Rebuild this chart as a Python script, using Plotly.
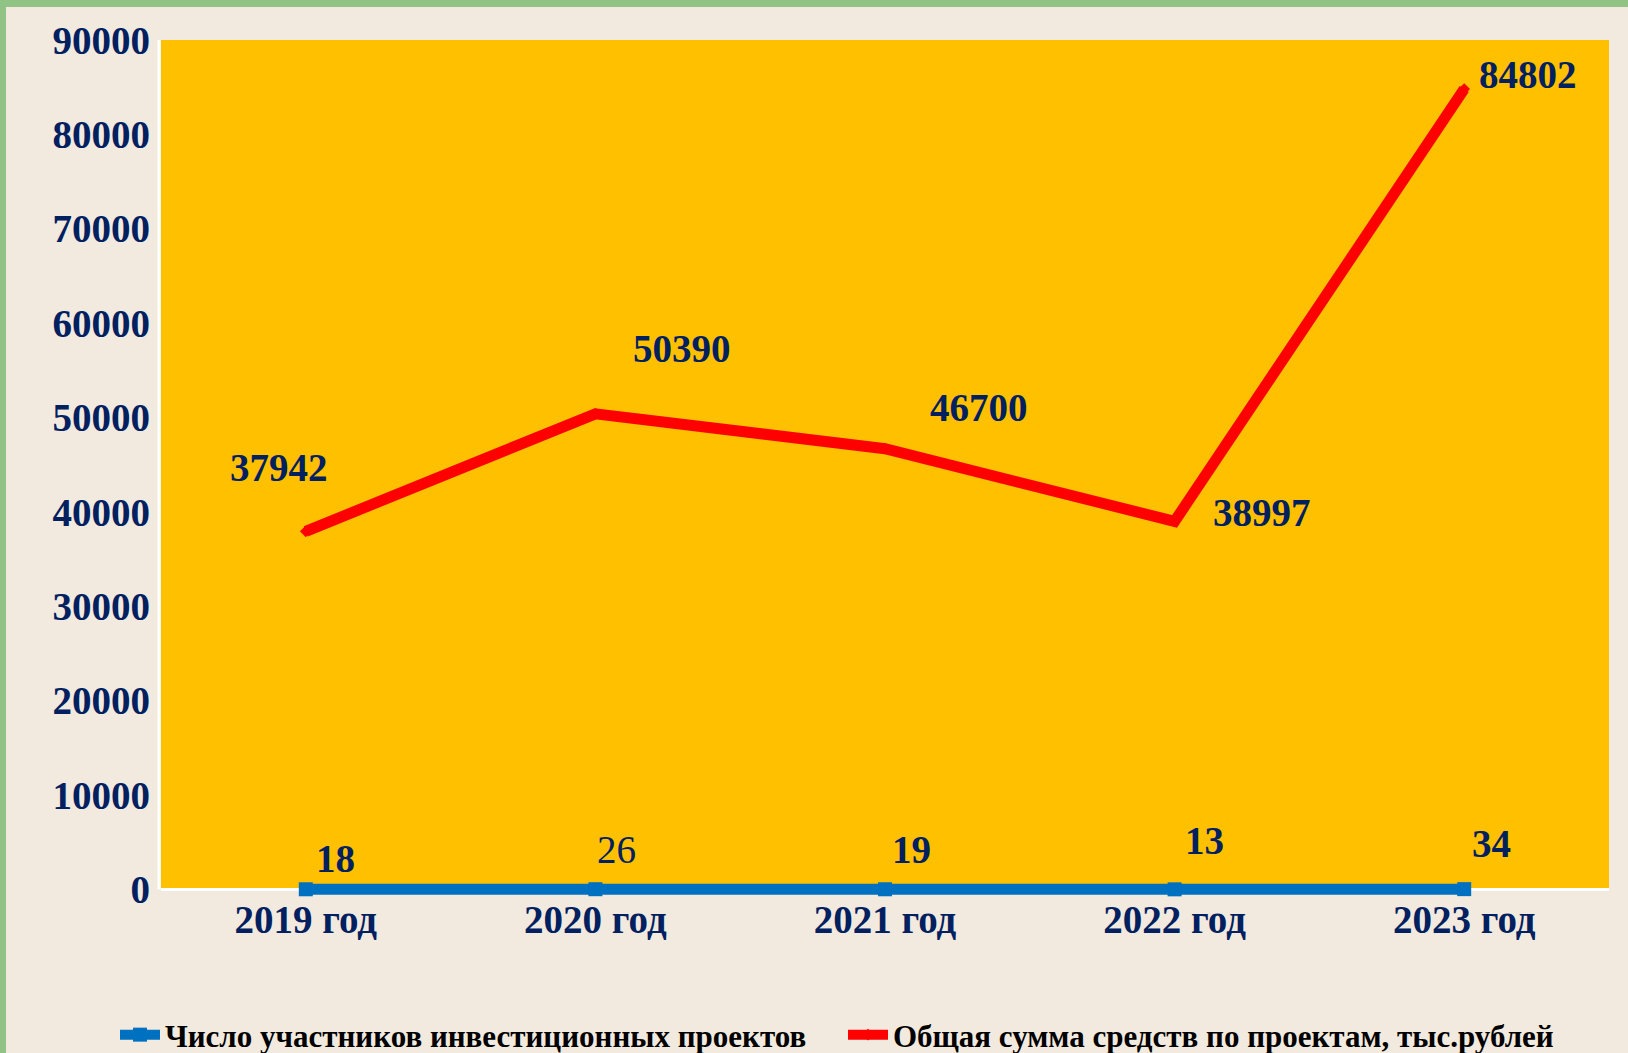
import plotly.graph_objects as go

# ---- data ----
years = ["2019 год", "2020 год", "2021 год", "2022 год", "2023 год"]
participants = [18, 26, 19, 13, 34]
funds = [37942, 50390, 46700, 38997, 84802]
y_ticks = [0, 10000, 20000, 30000, 40000, 50000, 60000, 70000, 80000, 90000]
name_participants = "Число участников инвестиционных проектов"
name_funds = "Общая сумма средств по проектам, тыс.рублей"

# ---- styles ----
NAVY = "#002060"
BLUE = "#0070C0"
RED = "#FF0000"
BG = "#F2EADF"
PLOT_BG = "#FFC000"
GREEN = "#91C385"
FONT = "Liberation Serif"
FS = 39

# label offsets in pixels (dx right, dy up)
funds_label_shift = [(-27, 64), (87, 65), (94, 41), (87, 9), (64, 15)]
part_label_shift = [(30, 31), (21, 40), (26, 40), (30, 49), (27, 46)]
part_label_bold = [True, False, True, True, True]

fig = go.Figure()

fig.add_trace(go.Scatter(
    x=years, y=participants, name=name_participants, mode="lines+markers",
    line=dict(color=BLUE, width=11),
    marker=dict(symbol="square", size=14, color=BLUE),
    cliponaxis=False,
))
fig.add_trace(go.Scatter(
    x=years, y=funds, name=name_funds, mode="lines+markers",
    line=dict(color=RED, width=11),
    marker=dict(symbol="diamond", size=9, color=RED),
    cliponaxis=False,
))

annotations = []
for x, v, (dx, dy) in zip(years, funds, funds_label_shift):
    annotations.append(dict(
        x=x, y=v, xref="x", yref="y", text=f"<b>{v}</b>", showarrow=False,
        xshift=dx, yshift=dy, xanchor="center", yanchor="middle",
        font=dict(family=FONT, size=FS, color=NAVY)))
for x, v, (dx, dy), b in zip(years, participants, part_label_shift, part_label_bold):
    annotations.append(dict(
        x=x, y=v, xref="x", yref="y", text=(f"<b>{v}</b>" if b else f"{v}"), showarrow=False,
        xshift=dx, yshift=dy, xanchor="center", yanchor="middle",
        font=dict(family=FONT, size=FS, color=NAVY)))

# plot-area geometry (pixels) for decorative frame
W, H = 1628, 1053
ML, MR, MT, MB = 161, 19, 40, 156
pw, ph = W - ML - MR, H - MT - MB

shapes = [
    # yellow plot background from 0 up to top
    dict(type="rect", xref="paper", yref="y", x0=0, x1=1, y0=0, y1=y_ticks[-1],
         fillcolor=PLOT_BG, line=dict(width=0), layer="below"),
    # white axis lines
    dict(type="line", xref="paper", yref="y", x0=0, x1=1, y0=0, y1=0,
         line=dict(color="white", width=3), layer="below"),
    dict(type="line", xref="paper", yref="y", x0=-2 / pw, x1=-2 / pw, y0=0, y1=y_ticks[-1],
         line=dict(color="white", width=3), layer="below"),
    # green border top and left
    dict(type="rect", xref="paper", yref="paper",
         x0=-ML / pw, x1=(W - ML) / pw, y0=1 + (MT - 7) / ph, y1=1 + MT / ph,
         fillcolor=GREEN, line=dict(width=0), layer="below"),
    dict(type="rect", xref="paper", yref="paper",
         x0=-ML / pw, x1=-(ML - 6) / pw, y0=-MB / ph, y1=1 + MT / ph,
         fillcolor=GREEN, line=dict(width=0), layer="below"),
]

fig.update_layout(
    width=W, height=H,
    margin=dict(l=ML, r=MR, t=MT, b=MB, autoexpand=False),
    paper_bgcolor=BG, plot_bgcolor=BG,
    showlegend=True,
    legend=dict(
        orientation="h", x=-46 / pw, xanchor="left", y=-(1035 - (H - MB)) / ph, yanchor="middle",
        font=dict(family=FONT, size=31, color="black", weight="bold"),
        bgcolor="rgba(0,0,0,0)", itemwidth=40, tracegroupgap=0, entrywidth=673,
    ),
    xaxis=dict(
        type="category", range=[-0.5, len(years) - 0.5], showgrid=False, zeroline=False,
        showline=False, ticks="", ticklabelstandoff=-4,
        tickfont=dict(family=FONT, size=FS, color=NAVY, weight="bold"),
    ),
    yaxis=dict(
        range=[-800, y_ticks[-1]], tickvals=y_ticks, ticktext=[str(t) for t in y_ticks],
        showgrid=False, zeroline=False, showline=False, ticks="", ticklabelstandoff=10,
        tickfont=dict(family=FONT, size=FS, color=NAVY, weight="bold"),
    ),
    annotations=annotations,
    shapes=shapes,
)

fig.write_html("out.html", config={"displayModeBar": False},
               post_script="document.body.style.margin='0';document.body.style.overflow='hidden';")
